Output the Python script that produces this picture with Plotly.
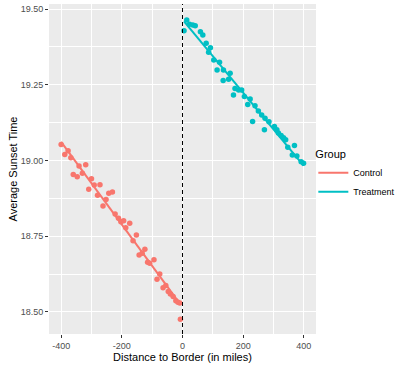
import numpy as np
import plotly.graph_objects as go

# ---- data ----
control_x = [-400, -388, -377, -368, -360, -347, -341, -330, -319, -309, -300, -291, -280, -272,
             -262, -252, -243, -231, -222, -211, -203, -194, -187, -174, -163, -152, -143, -133,
             -124, -115, -108, -94, -84, -75, -64, -55, -47, -40, -31, -22, -15, -9, -7]
control_y = [19.053, 19.020, 19.032, 19.009, 18.954, 18.946, 18.982, 18.958, 18.986, 18.905, 18.940,
             18.919, 18.885, 18.920, 18.850, 18.871, 18.892, 18.896, 18.823, 18.809, 18.798, 18.801,
             18.778, 18.793, 18.735, 18.754, 18.688, 18.694, 18.707, 18.664, 18.661, 18.672, 18.608,
             18.625, 18.580, 18.587, 18.567, 18.559, 18.551, 18.537, 18.532, 18.529, 18.476]

treat_x = [5, 14, 23, 34, 42, 59, 67, 78, 92, 86, 103, 122, 114, 135, 134, 157, 152, 173, 185, 195,
           168, 204, 223, 215, 239, 250, 231, 261, 272, 285, 270, 303, 311, 316, 325, 333, 340, 347,
           369, 362, 377, 391, 399]
treat_y = [19.428, 19.464, 19.450, 19.447, 19.445, 19.425, 19.414, 19.387, 19.372, 19.357, 19.332,
           19.324, 19.299, 19.299, 19.264, 19.288, 19.268, 19.238, 19.233, 19.233, 19.216, 19.211,
           19.203, 19.185, 19.181, 19.163, 19.129, 19.150, 19.139, 19.128, 19.101, 19.112, 19.101,
           19.091, 19.082, 19.075, 19.068, 19.044, 19.049, 19.018, 19.015, 18.996, 18.991]

groups = ["Control", "Treatment"]
colors = {"Control": "#F8766D", "Treatment": "#00BFC4"}
cutoff = 0

x_ticks = [-400, -200, 0, 200, 400]
x_ticktext = ["-400", "-200", "0", "200", "400"]
y_ticks = [18.50, 18.75, 19.00, 19.25, 19.50]
y_ticktext = ["18.50", "18.75", "19.00", "19.25", "19.50"]

fig = go.Figure()

for name, xs, ys in [("Control", control_x, control_y), ("Treatment", treat_x, treat_y)]:
    xs = np.array(xs, dtype=float)
    ys = np.array(ys, dtype=float)
    fig.add_trace(go.Scatter(x=xs, y=ys, mode="markers", showlegend=False,
                             marker=dict(color=colors[name], size=5.5, line=dict(width=0)),
                             name=name))
    b, a = np.polyfit(xs, ys, 1)
    lx = np.array([xs.min(), xs.max()])
    fig.add_trace(go.Scatter(x=lx, y=a + b * lx, mode="lines", name=name,
                             line=dict(color=colors[name], width=2)))

fig.add_vline(x=cutoff, line=dict(color="black", width=1, dash="4px,3px"))

axis_common = dict(
    showgrid=True, gridcolor="white", gridwidth=1.1, zeroline=False,
    ticks="outside", ticklen=3, tickwidth=1, tickcolor="#333333",
    tickfont=dict(size=9, color="#4D4D4D"), showline=False, automargin=False,
    minor=dict(showgrid=True, gridcolor="white", gridwidth=0.5),
)

fig.update_xaxes(range=[-440, 440], tickvals=x_ticks, ticktext=x_ticktext,
                 title=dict(text="Distance to Border (in miles)", font=dict(size=11, color="black"), standoff=1),
                 minor_tickvals=[-300, -100, 100, 300], **axis_common)
fig.update_yaxes(range=[18.427, 19.5166], tickvals=y_ticks, ticktext=y_ticktext,
                 title=dict(text="Average Sunset Time", font=dict(size=11, color="black"), standoff=0),
                 minor_tickvals=[18.625, 18.875, 19.125, 19.375], **axis_common)

fig.update_layout(
    width=395, height=367,
    margin=dict(l=49, r=79, t=4, b=33, autoexpand=False),
    paper_bgcolor="white", plot_bgcolor="#EBEBEB",
    font=dict(family="Liberation Sans, Arial, sans-serif"),
    legend=dict(x=0.99, y=0.576, xanchor="left", yanchor="top",
                title=dict(text="Group", font=dict(size=11, color="black")),
                font=dict(size=9, color="black"), bgcolor="rgba(0,0,0,0)",
                itemwidth=30),
)

fig.write_html("out.html", config={"displayModeBar": False},
               post_script="document.body.style.margin='0';")
